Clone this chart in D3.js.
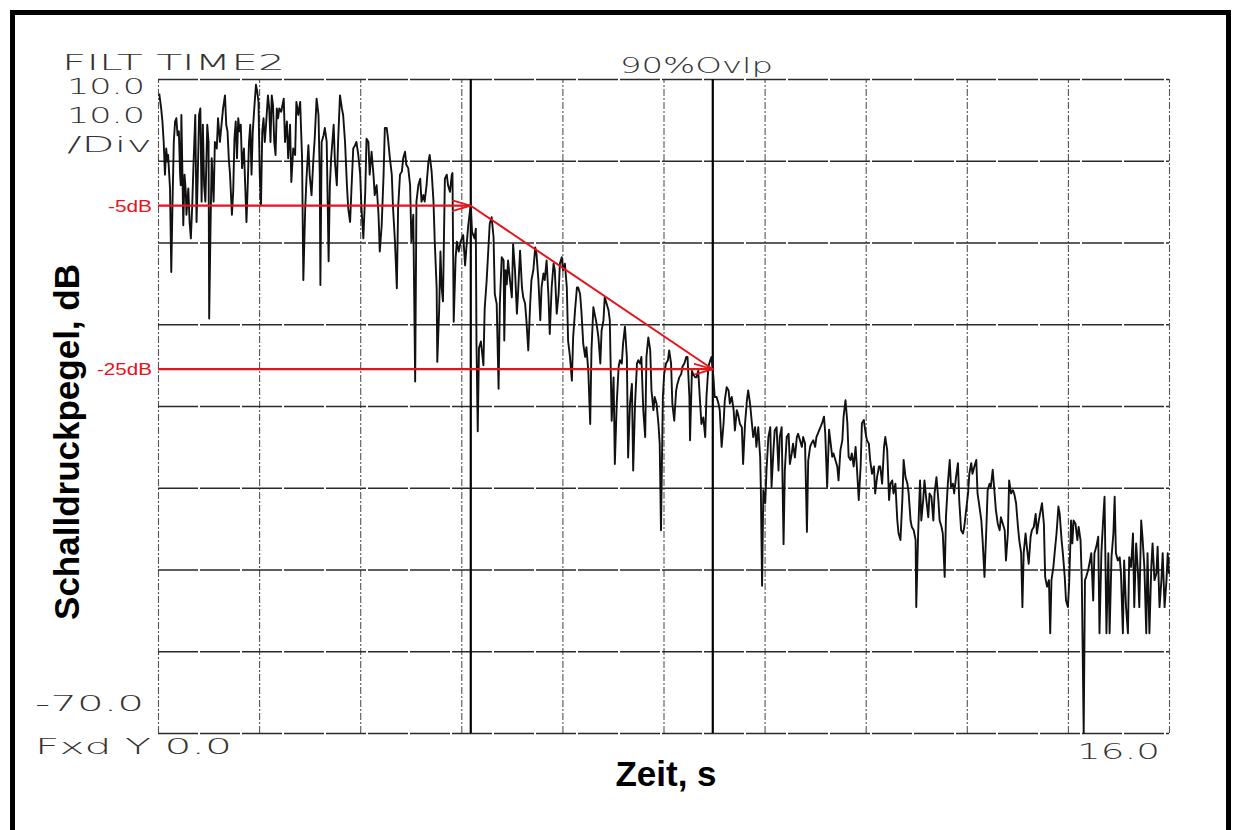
<!DOCTYPE html>
<html><head><meta charset="utf-8">
<script src="https://cdn.jsdelivr.net/npm/d3@7"></script>
<style>
html,body{margin:0;padding:0;background:#fff;}
svg{display:block;}
</style></head>
<body>
<svg id="chart" width="1234" height="830"></svg>
<script>
// ---------------- data ----------------
const xGridTicks = [0, 1.6, 3.2, 4.8, 6.4, 8.0, 9.6, 11.2, 12.8, 14.4, 16.0];
const yGridTicks = [10, 0, -10, -20, -30, -40, -50, -60, -70];
const markerTimes = [4.95, 8.78];
const refLevels = [-5.5, -25.5];
const refLabels = ["-5dB", "-25dB"];
const slopePoints = [[4.95, -5.5], [8.78, -25.5]];
const plotterLabels = ["FILT TIME2", "10.0", "10.0", "/Div", "90%Ovlp", "-70.0", "Fxd Y 0.0", "16.0"];
const xTitle = "Zeit, s";
const yTitle = "Schalldruckpegel, dB";
// time (s), level (dB)
const trace = [
[0.02,8.2],[0.05,6.4],[0.07,4.8],[0.09,2.3],[0.11,-1.7],[0.13,1.5],[0.15,-0.1],[0.16,0.7],[0.19,-3.4],[0.21,-13.6],
[0.23,-5.0],[0.25,2.3],[0.27,4.8],[0.29,5.2],[0.31,3.1],[0.33,3.6],[0.35,-1.7],[0.36,-3.0],[0.37,5.6],[0.39,-3.0],
[0.40,-7.9],[0.42,-1.7],[0.44,-3.8],[0.45,-6.6],[0.48,-3.4],[0.50,-7.5],[0.52,-9.5],[0.54,-5.8],[0.56,-0.9],[0.59,5.6],
[0.61,-7.5],[0.63,-1.7],[0.65,5.6],[0.67,6.4],[0.69,-5.0],[0.71,4.4],[0.73,-3.0],[0.75,-5.0],[0.78,4.4],[0.80,2.3],
[0.81,-19.3],[0.83,-8.7],[0.85,0.3],[0.88,-5.0],[0.90,2.3],[0.93,1.5],[0.95,5.2],[0.98,2.3],[1.01,4.8],[1.03,6.4],
[1.06,8.0],[1.08,4.4],[1.10,3.6],[1.12,0.3],[1.14,-1.7],[1.17,-6.6],[1.19,-3.8],[1.21,2.7],[1.23,4.8],[1.25,0.3],
[1.27,5.2],[1.29,3.6],[1.31,4.4],[1.33,-0.9],[1.36,1.5],[1.38,-3.0],[1.40,-7.5],[1.42,-3.0],[1.44,2.3],[1.46,4.4],
[1.48,-1.7],[1.50,3.6],[1.52,6.0],[1.55,9.3],[1.57,8.5],[1.59,7.2],[1.61,-1.7],[1.63,-5.4],[1.65,3.6],[1.67,5.2],
[1.69,2.3],[1.71,4.4],[1.74,8.0],[1.76,6.4],[1.78,2.3],[1.80,8.0],[1.82,6.8],[1.84,2.3],[1.86,0.7],[1.88,6.4],
[1.90,5.2],[1.92,6.4],[1.95,6.0],[1.97,6.8],[1.99,7.6],[2.01,2.3],[2.04,4.8],[2.06,0.3],[2.09,4.4],[2.11,-2.6],
[2.14,1.5],[2.17,0.7],[2.19,7.2],[2.22,5.6],[2.25,7.2],[2.26,4.8],[2.28,0.3],[2.30,-14.6],[2.33,-5.8],[2.35,-2.2],
[2.38,1.9],[2.40,-1.7],[2.43,-4.2],[2.46,0.3],[2.48,2.7],[2.51,7.6],[2.54,5.6],[2.56,-1.7],[2.57,-15.2],[2.59,2.3],
[2.62,3.1],[2.64,4.0],[2.67,2.3],[2.70,-12.3],[2.72,-3.0],[2.74,0.3],[2.76,2.3],[2.78,4.4],[2.80,-0.1],[2.83,-3.0],
[2.85,2.3],[2.88,8.0],[2.91,6.4],[2.93,5.6],[2.96,2.3],[2.99,-3.0],[3.01,-5.8],[3.04,-7.5],[3.06,-3.8],[3.09,1.5],
[3.12,1.9],[3.14,2.3],[3.17,0.7],[3.20,-1.7],[3.22,-5.8],[3.25,-9.5],[3.28,-3.8],[3.30,2.7],[3.33,2.3],[3.35,-1.7],
[3.38,1.1],[3.41,-1.7],[3.43,-4.2],[3.46,-3.0],[3.49,-6.6],[3.51,-11.1],[3.54,-7.9],[3.57,-1.7],[3.59,4.0],[3.62,4.0],
[3.64,2.7],[3.67,0.3],[3.70,-1.7],[3.72,-5.8],[3.75,-9.9],[3.78,-15.6],[3.80,-5.8],[3.83,-1.7],[3.86,-1.3],[3.88,0.3],
[3.91,1.1],[3.93,-0.5],[3.96,-0.9],[3.99,-3.0],[4.01,-9.9],[4.04,-6.6],[4.07,-27.0],[4.09,-5.0],[4.12,-3.0],[4.15,-2.2],
[4.17,-5.0],[4.20,-4.2],[4.22,-5.0],[4.25,-3.0],[4.28,-0.1],[4.30,0.7],[4.33,-1.3],[4.36,-5.0],[4.38,-9.9],[4.41,-15.6],
[4.42,-24.6],[4.45,-18.1],[4.47,-11.1],[4.49,-15.6],[4.51,-17.2],[4.54,-2.2],[4.57,-1.7],[4.59,-3.0],[4.62,-3.8],[4.65,-1.7],
[4.66,-1.5],[4.68,-19.7],[4.71,-11.9],[4.73,-9.9],[4.76,-11.1],[4.79,-9.9],[4.83,-9.1],[4.86,-12.8],[4.88,-10.7],[4.91,-7.9],
[4.93,-6.6],[4.95,-5.4],[4.97,-8.7],[5.01,-9.5],[5.03,-8.3],[5.04,-22.1],[5.06,-33.1],[5.08,-22.9],[5.11,-22.1],[5.15,-25.0],
[5.17,-18.1],[5.20,-14.8],
[5.25,-7.7],[5.28,-6.9],[5.31,-9.3],[5.33,-16.3],[5.36,-17.5],[5.39,-27.9],[5.41,-17.5],[5.44,-11.8],[5.47,-12.2],[5.48,-22.0],
[5.50,-13.4],[5.52,-15.1],[5.54,-12.2],[5.57,-14.6],[5.60,-16.7],[5.62,-10.2],[5.65,-13.4],[5.68,-18.7],[5.70,-15.9],[5.73,-11.0],
[5.76,-15.5],[5.78,-16.7],[5.81,-17.5],[5.83,-19.5],[5.86,-23.2],[5.89,-17.5],[5.91,-14.6],[5.94,-13.4],[5.97,-10.6],[5.99,-11.4],
[6.02,-14.6],[6.05,-19.5],[6.07,-15.5],[6.10,-13.8],[6.12,-14.6],[6.15,-12.2],[6.18,-16.7],[6.20,-21.2],[6.23,-15.5],[6.26,-12.6],
[6.28,-13.4],[6.31,-18.7],[6.34,-16.3],[6.36,-12.6],[6.39,-11.8],[6.41,-13.4],[6.44,-12.6],[6.47,-15.5],[6.49,-22.0],[6.52,-24.0],
[6.55,-26.9],[6.57,-21.6],[6.60,-18.3],[6.63,-15.5],[6.65,-15.5],[6.68,-16.3],[6.70,-18.3],[6.73,-22.4],[6.76,-24.0],[6.78,-22.8],
[6.81,-25.7],[6.84,-32.2],[6.86,-23.2],[6.89,-17.9],[6.92,-19.1],[6.94,-19.9],[6.97,-21.6],[7.00,-24.8],[7.02,-20.8],[7.05,-19.5],
[7.07,-16.7],[7.10,-17.5],[7.13,-18.3],[7.15,-19.5],[7.18,-31.8],[7.21,-26.5],[7.23,-37.1],[7.26,-29.7],[7.29,-25.2],[7.31,-24.4],
[7.34,-24.8],[7.36,-22.4],[7.39,-20.3],[7.42,-24.0],[7.44,-36.3],[7.47,-29.7],[7.50,-27.3],[7.52,-37.9],[7.55,-29.7],[7.58,-24.8],
[7.60,-24.4],[7.63,-24.8],[7.65,-24.0],[7.68,-30.5],[7.71,-33.8],[7.73,-24.0],[7.76,-21.6],[7.79,-23.2],[7.81,-28.1],[7.84,-30.5],
[7.86,-28.9],[7.89,-29.7],[7.92,-32.2],[7.94,-34.6],[7.96,-45.2],[7.99,-28.9],[8.01,-26.1],[8.04,-24.8],[8.07,-24.4],[8.09,-23.2],
[8.12,-24.8],[8.14,-29.7],[8.17,-31.8],[8.20,-28.1],[8.22,-27.3],[8.25,-26.5],[8.28,-26.1],[8.30,-25.2],[8.33,-24.8],[8.36,-24.0],
[8.38,-24.0],[8.41,-28.9],[8.42,-34.2],[8.45,-25.7],[8.47,-26.1],[8.50,-26.5],[8.52,-26.5],[8.55,-25.7],[8.58,-29.7],[8.60,-32.2],
[8.63,-31.4],[8.66,-33.8],[8.68,-28.9],[8.71,-25.2],[8.74,-24.4],[8.76,-24.0],[8.79,-26.5],[8.81,-28.9],[8.84,-28.9],[8.87,-29.7],
[8.89,-30.5],[8.92,-35.0],[8.95,-32.2],[8.97,-29.3],[9.00,-27.7],[9.03,-28.1],[9.05,-29.7],[9.08,-28.9],[9.11,-30.5],[9.13,-33.0],
[9.16,-30.5],[9.18,-31.0],[9.21,-32.2],[9.24,-32.6],[9.26,-37.1],[9.29,-32.2],[9.32,-29.3],[9.34,-28.1],[9.37,-29.7],[9.40,-32.2],
[9.42,-33.8],[9.45,-32.6],[9.47,-35.0],[9.50,-32.6],[9.53,-36.3],[9.54,-39.9],[9.56,-52.0],[9.58,-40.3],[9.61,-41.9],[9.63,-37.9],
[9.66,-33.8],[9.69,-32.6],[9.71,-39.9],[9.74,-35.4],[9.76,-33.0],[9.79,-32.6],[9.82,-37.9],[9.84,-33.8],[9.87,-32.6],[9.90,-46.9],
[9.92,-37.9],[9.95,-33.8],[9.98,-33.4],[10.00,-37.1],[10.03,-35.8],[10.05,-34.6],[10.08,-36.3],[10.11,-33.8],[10.13,-33.4],[10.16,-34.2],
[10.19,-35.0],[10.21,-33.8],[10.24,-34.6],[10.27,-45.4],[10.29,-36.7],[10.32,-35.0],[10.34,-34.6],[10.37,-34.2],[10.40,-35.0],[10.42,-33.8],
[10.51,-32.1],[10.54,-31.3],[10.56,-33.4],[10.59,-39.9],[10.62,-32.9],[10.64,-34.2],[10.67,-36.2],[10.69,-35.8],[10.72,-36.6],[10.75,-37.4],
[10.77,-39.1],[10.80,-35.4],[10.83,-34.2],[10.85,-31.3],[10.88,-29.3],[10.91,-32.1],[10.93,-36.2],[10.96,-36.6],[10.98,-35.8],[11.01,-37.4],
[11.04,-35.0],[11.06,-37.4],[11.09,-41.5],[11.12,-37.4],[11.14,-32.1],[11.17,-31.7],[11.20,-33.4],[11.22,-34.2],[11.25,-34.6],[11.27,-36.6],
[11.30,-38.3],[11.33,-37.4],[11.35,-40.7],[11.38,-38.7],[11.41,-37.4],[11.43,-37.4],[11.46,-39.5],[11.49,-35.0],[11.51,-33.8],[11.54,-35.4],
[11.57,-41.5],[11.59,-39.5],[11.62,-39.1],[11.64,-40.7],[11.67,-39.5],[11.70,-44.0],[11.72,-45.6],[11.75,-46.4],[11.78,-41.5],[11.80,-36.6],
[11.83,-38.7],[11.86,-39.5],[11.88,-40.7],[11.91,-44.0],[11.93,-44.8],[11.96,-45.2],[11.99,-46.4],[12.00,-54.6],[12.03,-45.6],[12.06,-39.1],
[12.08,-44.0],[12.11,-41.5],[12.13,-39.1],[12.16,-41.5],[12.19,-43.6],[12.21,-40.7],[12.24,-41.1],[12.27,-44.0],[12.29,-40.7],[12.32,-38.7],
[12.35,-41.5],[12.37,-44.0],[12.40,-44.8],[12.42,-45.6],[12.45,-50.9],[12.47,-43.6],[12.50,-39.5],[12.53,-36.6],[12.55,-39.9],[12.58,-39.5],
[12.60,-40.7],[12.63,-38.7],[12.66,-37.0],[12.68,-41.5],[12.71,-45.2],[12.74,-45.6],[12.76,-44.8],[12.79,-42.7],[12.82,-40.7],[12.84,-38.3],
[12.87,-37.0],[12.89,-38.3],[12.92,-37.4],[12.95,-36.6],[12.97,-40.7],[13.00,-42.3],[13.03,-44.0],[13.05,-46.4],[13.08,-50.9],[13.11,-44.8],
[13.13,-40.3],[13.16,-39.5],[13.18,-39.9],[13.21,-37.8],[13.24,-40.7],[13.26,-42.7],[13.29,-44.4],[13.32,-45.2],[13.34,-43.6],[13.37,-44.4],
[13.40,-45.2],[13.42,-48.9],[13.45,-45.6],[13.47,-39.1],[13.50,-40.7],[13.53,-40.3],[13.55,-40.7],[13.58,-41.9],[13.61,-44.8],[13.63,-46.4],
[13.66,-48.0],[13.68,-54.6],[13.70,-48.0],[13.73,-45.6],[13.75,-47.2],[13.78,-49.3],[13.81,-46.0],[13.83,-45.2],[13.86,-44.8],[13.89,-43.2],
[13.91,-45.6],[13.94,-44.0],[13.97,-42.7],[13.99,-41.9],[14.02,-44.4],[14.04,-50.9],[14.07,-52.1],[14.10,-51.3],[14.12,-57.8],[14.14,-51.3],
[14.17,-49.7],[14.19,-48.0],[14.22,-45.6],[14.25,-42.3],[14.27,-43.2],[14.30,-46.4],[14.32,-48.0],[14.35,-50.9],[14.37,-53.8],[14.40,-54.6],
[14.42,-51.7],[14.45,-44.0],[14.47,-46.8],[14.49,-44.0],[14.52,-44.4],[14.55,-46.4],[14.57,-44.8],[14.60,-46.4],[14.62,-51.3],[14.65,-70.0],
[14.67,-51.3],[14.69,-50.9],[14.72,-50.1],[14.75,-48.9],[14.77,-48.0],[14.80,-53.8],[14.82,-48.0],[14.85,-47.2],[14.88,-46.0],[14.90,-57.8],
[14.93,-48.0],[14.96,-43.6],[14.98,-41.1],[15.01,-57.8],[15.04,-48.0],[15.06,-57.8],[15.09,-48.5],[15.12,-45.6],[15.14,-41.1],[15.16,-48.0],
[15.19,-48.9],[15.22,-48.5],[15.24,-50.5],[15.27,-57.8],[15.29,-48.9],[15.32,-54.6],[15.35,-57.8],[15.37,-48.5],[15.40,-49.7],[15.43,-45.6],
[15.45,-54.6],[15.48,-46.8],[15.51,-50.5],[15.53,-54.6],[15.56,-44.0],[15.58,-46.0],[15.61,-49.7],[15.64,-57.8],[15.66,-48.0],[15.69,-57.8],
[15.72,-49.7],[15.74,-46.8],[15.77,-51.3],[15.80,-50.5],[15.82,-47.2],[15.85,-54.6],[15.88,-51.3],[15.90,-48.0],[15.93,-54.6],[15.96,-51.3],
[15.98,-48.0],[16.00,-50.5]
];

// ---------------- layout ----------------
const W = 1234, H = 830;
const plot = {left: 158, right: 1169, top: 79, bottom: 733};
const svg = d3.select("#chart");
const x = d3.scaleLinear().domain([0, 16]).range([plot.left, plot.right]);
const y = d3.scaleLinear().domain([-70, 10]).range([plot.bottom, plot.top]);
const RED = "#e3141b";

svg.append("rect").attr("width", W).attr("height", H).attr("fill", "#fff");

// thick frame of the scanned page
svg.append("path")
  .attr("d", `M12.5,${H} V12.5 H1228.5 V${H}`)
  .attr("fill", "none").attr("stroke", "#000").attr("stroke-width", 5);

// grid through axes
const gx = svg.append("g").attr("transform", `translate(0,${plot.bottom})`)
  .call(d3.axisBottom(x).tickValues(xGridTicks).tickSize(-(plot.bottom - plot.top)).tickFormat(""));
gx.select(".domain").remove();
gx.selectAll(".tick line").attr("stroke", "#555").attr("stroke-width", 1.1).attr("stroke-dasharray", "7,2,2,2");

const gy = svg.append("g").attr("transform", `translate(${plot.left},0)`)
  .call(d3.axisLeft(y).tickValues(yGridTicks).tickSize(-(plot.right - plot.left)).tickFormat(""));
gy.select(".domain").remove();
gy.selectAll(".tick line").attr("stroke", "#2a2a2a").attr("stroke-width", 1.5).attr("stroke-dasharray", "40,2");

// marker (cursor) lines
svg.append("g").selectAll("line").data(markerTimes).join("line")
  .attr("x1", d => x(d)).attr("x2", d => x(d))
  .attr("y1", y(10)).attr("y2", y(-70))
  .attr("stroke", "#000").attr("stroke-width", 2.2);

// trace
svg.append("path").datum(trace)
  .attr("fill", "none").attr("stroke", "#111").attr("stroke-width", 1.9)
  .attr("stroke-linejoin", "round")
  .attr("d", d3.line().x(d => x(d[0])).y(d => y(d[1])));

// red annotation
const defs = svg.append("defs");
defs.append("marker").attr("id", "arr").attr("viewBox", "0 0 20 12")
  .attr("refX", 19).attr("refY", 6).attr("markerWidth", 20).attr("markerHeight", 12)
  .attr("markerUnits", "userSpaceOnUse").attr("orient", "auto")
  .append("path").attr("d", "M0,0.5 L19,6 L0,11.5").attr("fill", "none")
  .attr("stroke", RED).attr("stroke-width", 1.8);

svg.append("g").selectAll("line").data(refLevels).join("line")
  .attr("x1", x(0)).attr("x2", (d, i) => x(markerTimes[i]))
  .attr("y1", d => y(d)).attr("y2", d => y(d))
  .attr("stroke", RED).attr("stroke-width", 2.2)
  .attr("marker-end", "url(#arr)");

svg.append("path").datum(slopePoints)
  .attr("fill", "none").attr("stroke", RED).attr("stroke-width", 2)
  .attr("d", d3.line().x(d => x(d[0])).y(d => y(d[1])));

const refLabelWidth = [44, 55];
svg.append("g").selectAll("text").data(refLabels).join("text")
  .attr("x", (d, i) => x(0) - 6 - refLabelWidth[i]).attr("y", (d, i) => y(refLevels[i]) + 6)
  .attr("textLength", (d, i) => refLabelWidth[i]).attr("lengthAdjust", "spacingAndGlyphs")
  .attr("font-family", "'Liberation Sans', Arial, sans-serif").attr("font-size", 17)
  .attr("fill", RED).text(d => d);

// plotter annotations
const plotterPos = [
  {x: 62, y: 70, w: 223},
  {x: 67, y: 94, w: 78},
  {x: 67, y: 123, w: 78},
  {x: 67, y: 152, w: 85},
  {x: 620, y: 73, w: 153},
  {x: 35, y: 711, w: 109},
  {x: 35, y: 754, w: 197},
  {x: 1077, y: 759, w: 83}
];
svg.append("g").selectAll("text").data(plotterLabels).join("text")
  .attr("x", (d, i) => plotterPos[i].x).attr("y", (d, i) => plotterPos[i].y)
  .attr("textLength", (d, i) => plotterPos[i].w).attr("lengthAdjust", "spacingAndGlyphs")
  .attr("font-family", "'DejaVu Sans', sans-serif").attr("font-weight", 200)
  .attr("font-size", 20.5).attr("fill", "#333").text(d => d);

// axis titles
svg.append("text").attr("x", 666).attr("y", 786).attr("text-anchor", "middle")
  .attr("font-family", "'Liberation Sans', Arial, sans-serif").attr("font-weight", "bold")
  .attr("font-size", 35).attr("fill", "#000").text(xTitle);
svg.append("text").attr("transform", "translate(79,442) rotate(-90)").attr("text-anchor", "middle")
  .attr("font-family", "'Liberation Sans', Arial, sans-serif").attr("font-weight", "bold")
  .attr("font-size", 35).attr("fill", "#000").text(yTitle);
</script>
</body></html>
